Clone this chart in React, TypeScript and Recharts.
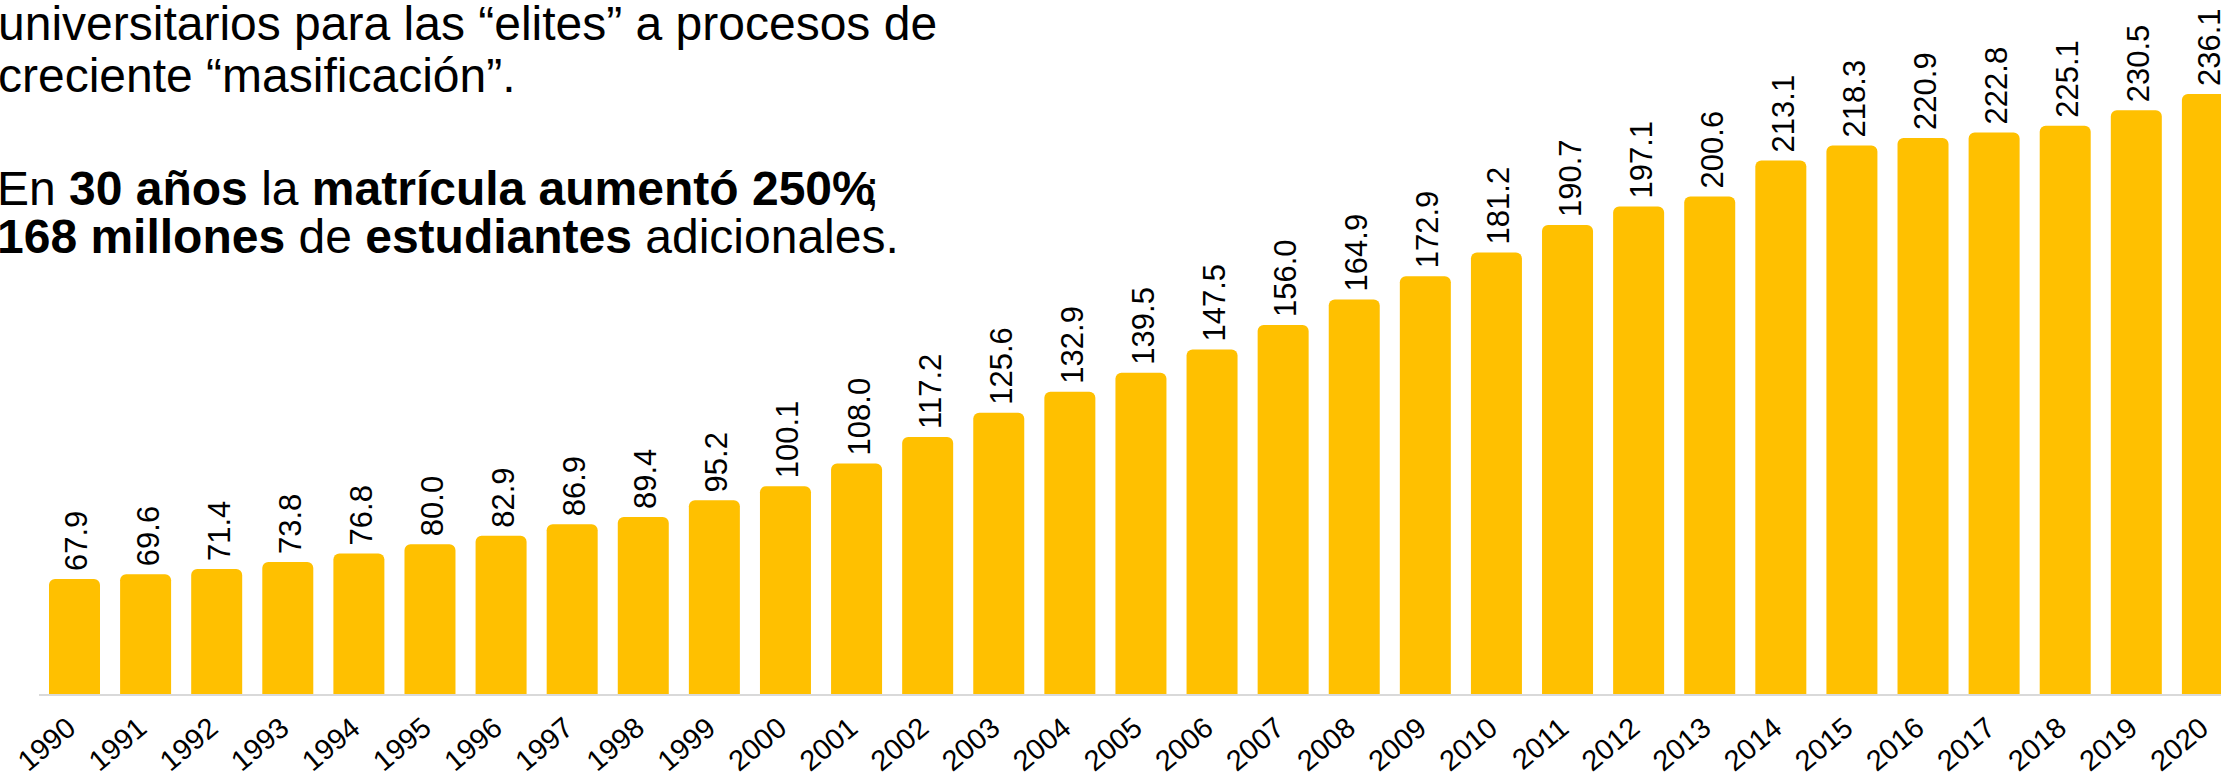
import { BarChart, Bar, XAxis, YAxis, LabelList } from 'recharts';

const years = ['1990', '1991', '1992', '1993', '1994', '1995', '1996', '1997', '1998', '1999', '2000', '2001', '2002', '2003', '2004', '2005', '2006', '2007', '2008', '2009', '2010', '2011', '2012', '2013', '2014', '2015', '2016', '2017', '2018', '2019', '2020'];
const enrolment = [67.9, 69.6, 71.4, 73.8, 76.8, 80.0, 82.9, 86.9, 89.4, 95.2, 100.1, 108.0, 117.2, 125.6, 132.9, 139.5, 147.5, 156.0, 164.9, 172.9, 181.2, 190.7, 197.1, 200.6, 213.1, 218.3, 220.9, 222.8, 225.1, 230.5, 236.1];

const FONT = '"Liberation Sans", Arial, sans-serif';

const data = years.map((year, i) => ({ year, value: enrolment[i] }));

const YearTick = (props: any) => {
  const { x, y, payload } = props;
  const px = x + 3;
  const py = y + 36;
  return (
    <text x={px} y={py} transform={`rotate(-40, ${px}, ${py})`} textAnchor="end" fontSize={29} fontFamily={FONT} fill="#000">
      {payload.value}
    </text>
  );
};

const ValueLabel = (props: any) => {
  const { x, y, width, value } = props;
  const px = x + width / 2 + 13;
  const py = y - 8;
  return (
    <text x={px} y={py} transform={`rotate(-90, ${px}, ${py})`} textAnchor="start" fontSize={31} fontFamily={FONT} fill="#000">
      {Number(value).toFixed(1)}
    </text>
  );
};

export default function App() {
  return (
    <div style={{ position: 'absolute', left: 0, top: 0, width: 2221, height: 779, overflow: 'hidden', background: '#fff' }}>
      <BarChart width={2243} height={779} data={data} margin={{ top: 54, right: 0, left: 39, bottom: 0 }} barSize={51}>
        <XAxis
          dataKey="year"
          height={84}
          tickSize={0}
          tickMargin={0}
          tickLine={false}
          axisLine={{ stroke: '#D9D9D9', strokeWidth: 2 }}
          tick={<YearTick />}
          interval={0}
        />
        <YAxis hide domain={[27.7, 250]} allowDataOverflow />
        <Bar dataKey="value" fill="#FFC000" radius={[6, 6, 0, 0]} isAnimationActive={false}>
          <LabelList dataKey="value" content={<ValueLabel />} />
        </Bar>
      </BarChart>
      <svg width={1000} height={280} style={{ position: 'absolute', left: 0, top: 0, pointerEvents: 'none' }} fontFamily={FONT} fontSize={48} fill="#000">
        <text x={-2} y={40}>universitarios para las “elites” a procesos de</text>
        <text x={-2} y={92}>creciente “masificación”.</text>
        <text x={-3} y={205}>
          En <tspan fontWeight="bold">30 años</tspan> la <tspan fontWeight="bold">matrícula aumentó 250%</tspan><tspan dx={-9}>;</tspan>
        </text>
        <text x={-3} y={253}>
          <tspan fontWeight="bold">168 millones</tspan> de <tspan fontWeight="bold">estudiantes</tspan> adicionales.
        </text>
      </svg>
    </div>
  );
}
